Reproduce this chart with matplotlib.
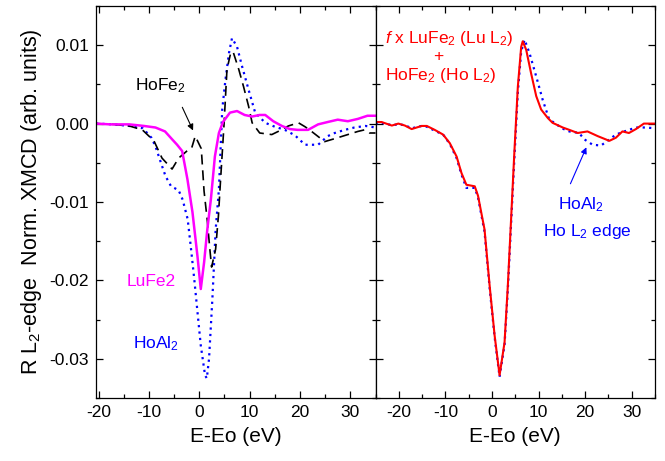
import numpy as np
import matplotlib
matplotlib.use("Agg")
import matplotlib.pyplot as plt
from matplotlib.ticker import MultipleLocator, FormatStrFormatter

plt.rcParams['font.family'] = ['Liberation Sans', 'DejaVu Sans']
plt.rcParams['mathtext.fontset'] = 'custom'
plt.rcParams['mathtext.rm'] = 'Liberation Sans'
plt.rcParams['mathtext.it'] = 'Liberation Sans:italic'
plt.rcParams['axes.unicode_minus'] = False

# ---- left panel: R L2-edge XMCD ----
lufe2_e = [-20.5, -17.7, -13.9, -11.0, -8.7, -6.8, -5.4, -4.4, -3.4, -2.35, -1.35, -0.36, 0.3,
           0.96, 1.6, 2.3, 3.1, 3.9, 4.7, 6.1, 7.5, 9.0, 10.5, 12.0, 13.1, 14.7, 16.4, 18.0,
           19.5, 21.6, 23.6, 25.5, 27.5, 29.5, 31.5, 33.4, 35.0]
lufe2_v = [0.0000, -0.0001, -0.0001, -0.0003, -0.0005, -0.0010, -0.0020, -0.0027, -0.0035,
           -0.0071, -0.0113, -0.0169, -0.0211, -0.0177, -0.0135, -0.0097, -0.0042, -0.0012,
           0.0002, 0.0014, 0.0016, 0.0011, 0.0009, 0.0011, 0.0011, 0.0003, -0.0003, -0.0007,
           -0.0008, -0.0008, -0.0001, 0.0002, 0.0005, 0.0003, 0.0006, 0.0010, 0.0010]

hofe2_e = [-20.5, -17.0, -13.9, -11.3, -9.0, -7.4, -5.4, -4.1, -2.45, -1.5, -0.8, 0.4, 0.95,
           1.6, 2.1, 2.45, 3.25, 3.8, 4.2, 4.9, 5.5, 6.2, 6.7, 7.85, 8.8, 9.8, 10.5, 12.0, 14.4,
           16.0, 17.7, 19.7, 21.0, 22.3, 24.9, 27.0, 29.5, 31.5, 32.8, 33.8, 35.0]
hofe2_v = [0.0, -0.0001, -0.0003, -0.0008, -0.0022, -0.0044, -0.0058, -0.0044, -0.0035,
           -0.0031, -0.0016, -0.0032, -0.0086, -0.0124, -0.0160, -0.0183, -0.0160, -0.0118,
           -0.0075, -0.0003, 0.0069, 0.0089, 0.0092, 0.0069, 0.0047, 0.0022, 0.0001, -0.0012,
           -0.0014, -0.0009, -0.0003, 0.0001, -0.0004, -0.0010, -0.0023, -0.0019, -0.0014,
           -0.0010, -0.0008, -0.0012, -0.0012]

hoal2_e = [-20.5, -17.0, -13.9, -11.2, -9.5, -8.7, -7.4, -6.7, -5.6, -4.1, -3.3, -2.3, -1.7,
           -1.0, -0.36, 0.3, 1.15, 1.5, 1.94, 2.6, 3.26, 3.9, 4.56, 5.2, 5.9, 6.5, 7.5, 8.5,
           9.8, 11.1, 13.1, 15.0, 17.0, 19.0, 21.0, 23.6, 25.5, 26.9, 28.9, 30.8, 33.0, 35.0]
hoal2_v = [0.0, -0.0001, -0.0003, -0.0006, -0.0018, -0.0029, -0.0054, -0.0067, -0.0080,
           -0.0085, -0.0097, -0.0122, -0.0156, -0.0198, -0.0240, -0.0283, -0.0321, -0.0325,
           -0.0300, -0.0224, -0.0135, -0.0084, 0.0018, 0.0056, 0.0090, 0.0109, 0.0098, 0.0073,
           0.0043, 0.0014, 0.0001, -0.0004, -0.0008, -0.0015, -0.0027, -0.0027, -0.0016,
           -0.0012, -0.0008, -0.0005, -0.0003, -0.0005]

# ---- right panel: f x LuFe2 + HoFe2 vs HoAl2 ----
sum_e = [-25.0, -23.7, -21.5, -20.1, -18.7, -17.25, -15.1, -14.0, -12.3, -10.5, -9.05, -7.6,
         -6.55, -5.5, -3.7, -3.0, -1.6, -0.5, 0.56, 1.63, 2.7, 3.4, 4.1, 4.8, 5.55, 6.27, 6.6,
         7.35, 8.4, 9.5, 10.55, 12.0, 13.0, 15.2, 16.6, 18.4, 20.5, 22.7, 25.2, 26.6, 28.0,
         29.4, 30.9, 32.6, 34.1, 35.0]
sum_v = [0.0002, 0.0002, -0.00025, 0.0, -0.00025, -0.0007, -0.0003, -0.0003, -0.0008, -0.0014,
         -0.0025, -0.0042, -0.0063, -0.0078, -0.0080, -0.0092, -0.0135, -0.0207, -0.0270,
         -0.0321, -0.0279, -0.0207, -0.0122, -0.0037, 0.0047, 0.0098, 0.0105, 0.0094, 0.0064,
         0.0035, 0.0018, 0.0007, 0.0001, -0.0005, -0.0008, -0.0012, -0.0010, -0.0016, -0.0022,
         -0.0018, -0.0010, -0.0012, -0.0007, 0.0, 0.0, 0.0]

hoal2r_e = [-25.0, -23.7, -21.5, -20.1, -18.7, -17.25, -15.1, -14.0, -12.3, -10.5, -9.05, -7.6,
            -6.55, -5.5, -3.7, -3.0, -1.6, -0.5, 0.56, 1.63, 2.7, 3.4, 4.1, 4.8, 5.55, 6.27,
            7.0, 8.05, 9.5, 10.9, 12.3, 13.4, 15.0, 16.6, 18.7, 19.8, 21.6, 23.4, 24.8, 26.6,
            28.4, 30.9, 33.0, 35.0]
hoal2r_v = [0.0, 0.0001, -0.0002, -0.0001, -0.0002, -0.0006, -0.0003, -0.0004, -0.0009,
            -0.0014, -0.0026, -0.0044, -0.0065, -0.0082, -0.0082, -0.0094, -0.0138, -0.0210,
            -0.0272, -0.0323, -0.0282, -0.0212, -0.0128, -0.0045, 0.0040, 0.0092, 0.0107,
            0.0090, 0.0060, 0.0030, 0.0005, 0.0001, -0.0006, -0.0010, -0.0012, -0.0020,
            -0.0027, -0.0028, -0.0022, -0.0014, -0.0010, -0.0005, -0.0005, -0.0006]

MAGENTA = '#ff00ff'
BLUE = '#0000ff'
RED = '#ff0000'

fig = plt.figure(figsize=(6.65, 4.61), dpi=100)
ax1 = fig.add_axes([0.1444, 0.1367, 0.4203, 0.8503])
ax2 = fig.add_axes([0.5647, 0.1367, 0.4203, 0.8503])

dotted = (0, (1, 1.9))
dashed = (0, (6, 3.5))

ax1.plot(hoal2_e, hoal2_v, color=BLUE, lw=1.6, ls=dotted)
ax1.plot(hofe2_e, hofe2_v, color='black', lw=1.2, ls=dashed)
ax1.plot(lufe2_e, lufe2_v, color=MAGENTA, lw=1.8)

ax2.plot(hoal2r_e, hoal2r_v, color=BLUE, lw=1.6, ls=dotted)
ax2.plot(sum_e, sum_v, color=RED, lw=1.5)

for ax in (ax1, ax2):
    ax.set_ylim(-0.035, 0.015)
    ax.xaxis.set_major_locator(MultipleLocator(10))
    ax.xaxis.set_minor_locator(MultipleLocator(5))
    ax.yaxis.set_major_locator(MultipleLocator(0.01))
    ax.yaxis.set_minor_locator(MultipleLocator(0.005))
    ax.tick_params(which='both', direction='in', top=True, right=True, labelsize=12.5,
                   width=0.9, pad=5)
    ax.tick_params(which='major', length=5)
    ax.tick_params(which='minor', length=3)
    for s in ax.spines.values():
        s.set_linewidth(0.9)
    ax.set_xlabel('E-Eo (eV)', fontsize=15, labelpad=5)

ax1.set_xlim(-20.5, 35)
ax2.set_xlim(-25, 35)
ax1.yaxis.set_major_formatter(FormatStrFormatter('%.2f'))
ax2.tick_params(labelleft=False)
ax1.set_ylabel('R L$_2$-edge  Norm. XMCD (arb. units)', fontsize=15.5, labelpad=4)

# left panel labels
ax1.text(-12.8, 0.0043, 'HoFe$_2$', fontsize=12.5, color='black', ha='left', va='baseline')
ax1.annotate('', xy=(-1.0, -0.0012), xytext=(-3.6, 0.0024),
             arrowprops=dict(arrowstyle='-|>', color='black', lw=0.8, mutation_scale=9))
ax1.text(-14.5, -0.0207, 'LuFe2', fontsize=12.5, color=MAGENTA, ha='left', va='baseline')
ax1.text(-13.2, -0.0287, 'HoAl$_2$', fontsize=12.5, color=BLUE, ha='left', va='baseline')

# right panel labels
ax2.text(-23.0, 0.01025, '$f$ x LuFe$_2$ (Lu L$_2$)', fontsize=12.5, color=RED,
         ha='left', va='baseline')
ax2.text(-11.6, 0.0085, '+', fontsize=12.5, color=RED, ha='center', va='center')
ax2.text(-23.0, 0.0056, 'HoFe$_2$ (Ho L$_2$)', fontsize=12.5, color=RED,
         ha='left', va='baseline')
ax2.text(14.1, -0.0109, 'HoAl$_2$', fontsize=12.5, color=BLUE, ha='left', va='baseline')
ax2.text(10.9, -0.0143, 'Ho L$_2$ edge', fontsize=12.5, color=BLUE, ha='left', va='baseline')
ax2.annotate('', xy=(20.5, -0.0027), xytext=(16.6, -0.0080),
             arrowprops=dict(arrowstyle='-|>', color=BLUE, lw=0.8, mutation_scale=9))

fig.savefig('out.png', dpi=100)
